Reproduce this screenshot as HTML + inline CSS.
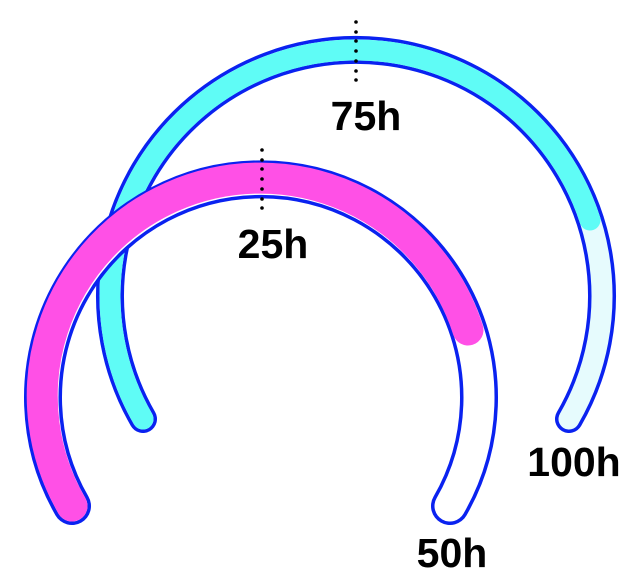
<!DOCTYPE html>
<html><head><style>
html,body{margin:0;padding:0;background:#fff;}
svg{display:block;}
text{font-family:"Liberation Sans",sans-serif;font-weight:bold;font-size:41px;fill:#000;}
</style></head><body>
<svg width="640" height="588" viewBox="0 0 640 588" xmlns="http://www.w3.org/2000/svg">
<g fill="none" stroke-linecap="round">
  <path d="M143 419 A246 246 0 1 1 569 419" stroke="#0a22f0" stroke-width="28"/>
  <path d="M143 419 A246 246 0 1 1 569 419" stroke="#e6fbfd" stroke-width="21"/>
  <path d="M143 419 A246 246 0 1 1 590 220" stroke="#5ffcf6" stroke-width="21"/>
  <path d="M72 506 A218 218 0 1 1 450 506" stroke="#0a22f0" stroke-width="38"/>
  <path d="M72 506 A218 218 0 1 1 450 506" stroke="#ffffff" stroke-width="31"/>
  <path d="M72 506 A218 218 0 1 1 468 330" stroke="#ff50e6" stroke-width="31"/>
</g>
<g fill="#000">
  <circle cx="356" cy="22" r="1.8"/><circle cx="356" cy="32" r="1.8"/><circle cx="356" cy="41" r="1.8"/><circle cx="356" cy="51" r="1.8"/><circle cx="356" cy="61" r="1.8"/><circle cx="356" cy="71" r="1.8"/><circle cx="356" cy="80" r="1.8"/>
  <circle cx="262" cy="150" r="1.8"/><circle cx="262" cy="160" r="1.8"/><circle cx="262" cy="169" r="1.8"/><circle cx="262" cy="179" r="1.8"/><circle cx="262" cy="189" r="1.8"/><circle cx="262" cy="199" r="1.8"/><circle cx="262" cy="208" r="1.8"/>
</g>
<text x="366" y="130" text-anchor="middle">75h</text>
<text x="273" y="258" text-anchor="middle">25h</text>
<text x="574" y="476" text-anchor="middle">100h</text>
<text x="452" y="567" text-anchor="middle">50h</text>
</svg>
</body></html>
